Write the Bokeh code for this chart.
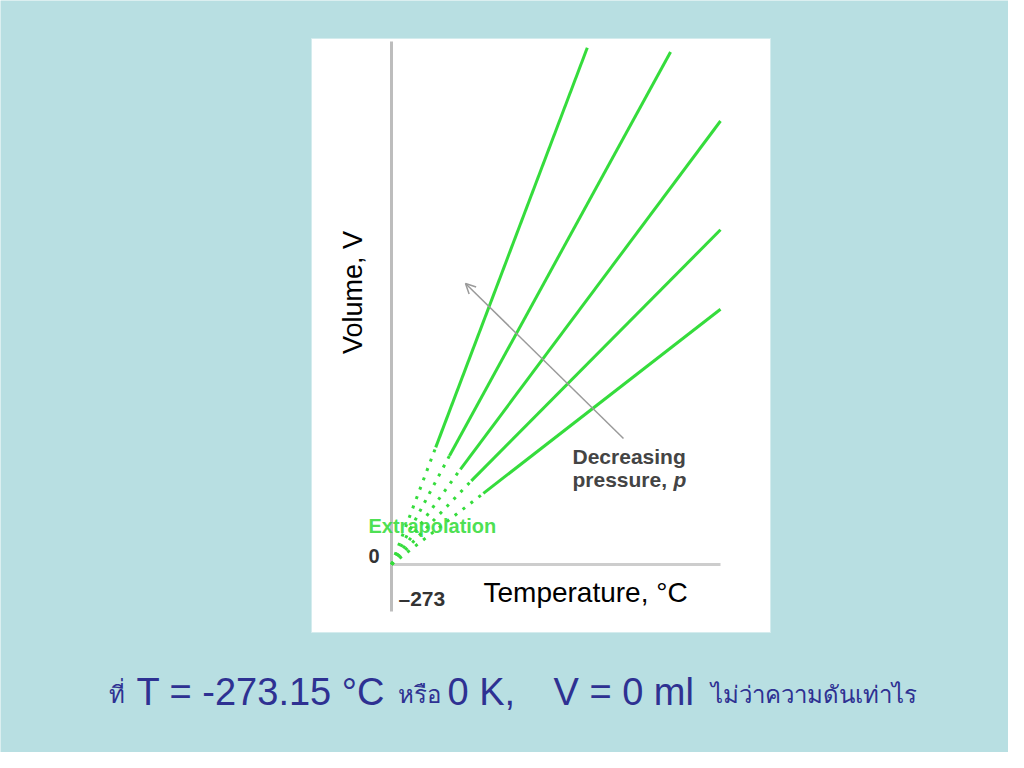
import math
from bokeh.plotting import figure
from bokeh.models import Range1d, Arrow, OpenHead
from bokeh.core.properties import value
from bokeh.embed import file_html
from bokeh.resources import INLINE

# ---------------- data ----------------
abs_zero_c = -273                       # extrapolated temperature where V = 0
series = ["highest p", "p2", "p3", "p4", "lowest p"]
t_end = [68, 213, 300, 300, 300]        # temperature (°C) at top end of each measured line
v_end = [49.4, 49.0, 42.4, 32.0, 24.4]  # volume at that end
t_meas_start = [-196, -172, -153, -134, -113]  # where measurement starts (solid part)
v_meas_start = [11.2, 10.4, 9.1, 8.0, 6.8]
tick_t_label = "\u2013273"
tick_v_label = "0"
x_title = "Temperature, \u00b0C"
y_title = "Volume, V"
note_lines = ["Decreasing", "pressure,"]
extrap_label = "Extrapolation"

# ---------------- page geometry helpers ----------------
W, H = 1008, 752
T_PER_PX = 573 / 329
V_PER_PX = 1 / 10.46
def tx(px):
    return abs_zero_c + (px - 391) * T_PER_PX
def vy(py):
    return (564 - py) * V_PER_PX

BG = "#b8dfe2"
GREEN = "#35dc3c"
BLUE = "#2e3192"
FONT = value("Liberation Sans")

p = figure(width=W, height=H, output_backend="svg", toolbar_location=None,
           x_range=Range1d(tx(0), tx(W)), y_range=Range1d(vy(H), vy(0)),
           x_axis_location=None, y_axis_location=None, min_border=0)
p.background_fill_color = BG
p.border_fill_color = BG
p.outline_line_color = None
p.xgrid.grid_line_color = None
p.ygrid.grid_line_color = None

# white panel
p.quad(left=[tx(311)], right=[tx(770)], top=[vy(38)], bottom=[vy(632)],
       fill_color="white", line_color="#d4ecee", line_width=1)

# axes
p.segment(x0=[abs_zero_c], y0=[vy(611)], x1=[abs_zero_c], y1=[vy(41)],
          line_color="#bdbdbd", line_width=3)
p.segment(x0=[abs_zero_c], y0=[0], x1=[max(t_end)], y1=[0],
          line_color="#cdcdcd", line_width=3)

# extrapolated (dotted) parts
p.segment(x0=[abs_zero_c] * len(series), y0=[0] * len(series),
          x1=t_meas_start, y1=v_meas_start,
          line_color=GREEN, line_width=3, line_dash="3 7")
# measured (solid) parts
p.segment(x0=t_meas_start, y0=v_meas_start, x1=t_end, y1=v_end,
          line_color=GREEN, line_width=3)

# arrow: decreasing pressure
p.add_layout(Arrow(end=OpenHead(size=10, line_color="#9a9a9a", line_width=1.5),
                   x_start=tx(623), y_start=vy(438), x_end=tx(465), y_end=vy(283),
                   line_color="#9a9a9a", line_width=1.5))

# axis titles
p.text(x=[tx(352)], y=[vy(292)], text=[y_title], angle=math.pi / 2,
       text_align="center", text_baseline="alphabetic",
       text_font=FONT, text_font_size="27px", text_color="black")
p.text(x=[tx(483)], y=[vy(592)], text=[x_title],
       text_align="left", text_baseline="alphabetic",
       text_font=FONT, text_font_size="28px", text_color="black")

# tick labels
p.text(x=[tx(368)], y=[vy(555)], text=[tick_v_label],
       text_align="left", text_baseline="alphabetic",
       text_font=FONT, text_font_size="20px", text_font_style="bold", text_color="#333333")
p.text(x=[tx(398)], y=[vy(598)], text=[tick_t_label],
       text_align="left", text_baseline="alphabetic",
       text_font=FONT, text_font_size="21px", text_font_style="bold", text_color="#333333")

# annotation
p.text(x=[tx(572), tx(572)], y=[vy(456), vy(479)], text=note_lines,
       text_align="left", text_baseline="alphabetic",
       text_font=FONT, text_font_size="21px", text_font_style="bold", text_color="#444444")
p.text(x=[tx(673)], y=[vy(479)], text=["p"],
       text_align="left", text_baseline="alphabetic",
       text_font=FONT, text_font_size="21px", text_font_style="bold italic", text_color="#444444")
p.text(x=[tx(368)], y=[vy(525)], text=[extrap_label],
       text_align="left", text_baseline="alphabetic",
       text_font=FONT, text_font_size="20px", text_font_style="bold", text_color=GREEN,
       text_alpha=0.9)

# bottom statement
latin_parts = ["T = -273.15 \u00b0C", "0 K,", "V = 0 ml"]
latin_x = [136, 447, 553]
thai_parts = ["\u0e17\u0e35\u0e48", "\u0e2b\u0e23\u0e37\u0e2d",
              "\u0e44\u0e21\u0e48\u0e27\u0e48\u0e32\u0e04\u0e27\u0e32\u0e21\u0e14\u0e31\u0e19\u0e40\u0e17\u0e48\u0e32\u0e44\u0e23"]
thai_x = [108, 397, 710]
p.text(x=[tx(v) for v in latin_x], y=[vy(691)] * 3, text=latin_parts,
       text_align="left", text_baseline="alphabetic",
       text_font=FONT, text_font_size="38px", text_color=BLUE)
p.text(x=[tx(v) for v in thai_x], y=[vy(693)] * 3, text=thai_parts,
       text_align="left", text_baseline="alphabetic",
       text_font=value("Noto Sans"), text_font_size="24px", text_color=BLUE)

open("out.html", "w").write(file_html(p, INLINE))
